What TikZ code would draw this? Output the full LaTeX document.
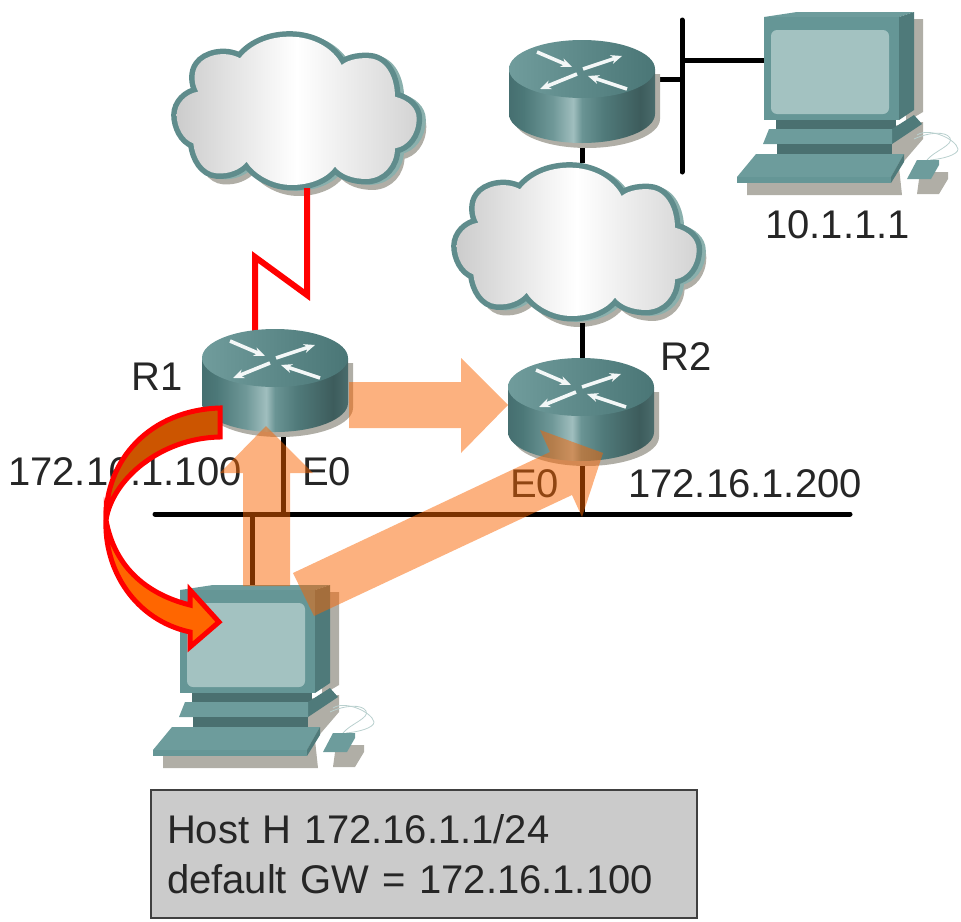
\documentclass[tikz,border=0pt]{standalone}
\usepackage{fontspec}
\setmainfont{Liberation Sans}
\usetikzlibrary{arrows.meta}
\definecolor{flowfill}{HTML}{F96400}
\definecolor{shadowc}{HTML}{B0AEA6}
\definecolor{pcfront}{HTML}{659696}
\definecolor{pcside}{HTML}{4F7A7A}
\definecolor{pcdark}{HTML}{4A7070}
\definecolor{pcscreen}{HTML}{A3C2C1}
\definecolor{pclite}{HTML}{6D9C9C}
\definecolor{cloudrim}{HTML}{5F8C8C}
\definecolor{cloudrimlite}{HTML}{8AB0AD}
\definecolor{boxgray}{HTML}{CBCBCB}
\definecolor{rtopa}{HTML}{709C9C}
\definecolor{rtopb}{HTML}{4A7676}
\definecolor{rs1}{HTML}{466F70}\definecolor{rs2}{HTML}{4C7878}\definecolor{rs3}{HTML}{6F9898}
\definecolor{rs4}{HTML}{A0BEBE}\definecolor{rs5}{HTML}{6A9494}\definecolor{rs6}{HTML}{507A7A}
\definecolor{rs7}{HTML}{3D5C5C}\definecolor{rs8}{HTML}{4A6C6C}
\pgfdeclarehorizontalshading{routerside}{100bp}{
 color(0bp)=(rs1); color(25bp)=(rs1); color(30bp)=(rs2); color(40bp)=(rs3); color(47bp)=(rs4);
 color(50bp)=(rs5); color(57.5bp)=(rs6); color(70bp)=(rs7); color(75bp)=(rs8); color(100bp)=(rs8)}
\tikzset{
 wire/.style={line width=5pt,black},
 redlink/.style={line width=6pt,red,line join=miter},
 flow/.style={fill=flowfill,fill opacity=.5,draw=none},
 bent/.style={draw=red,line width=5pt,line join=miter},
 lbl/.style={font=\fontsize{40}{46}\selectfont,inner sep=0pt,anchor=base west,text=black!85},
 rarrow/.style={white!92!pclite,line width=3.6pt,-{Stealth[length=11pt,width=9pt]}}
}
\newcommand{\cloudpath}{(240,130) .. controls (280,80) and (340,65) .. (390,65) .. controls (460,65) and (520,100) .. (545,150) .. controls (570,130) and (610,128) .. (630,130) .. controls (680,135) and (705,190) .. (705,245) .. controls (745,255) and (770,280) .. (770,310) .. controls (770,360) and (740,395) .. (705,400) .. controls (705,450) and (670,490) .. (620,492) .. controls (580,492) and (545,480) .. (525,455) .. controls (500,490) and (450,510) .. (395,510) .. controls (340,510) and (285,480) .. (260,440) .. controls (240,465) and (205,478) .. (170,475) .. controls (130,472) and (105,430) .. (100,385) .. controls (70,375) and (50,335) .. (50,300) .. controls (50,265) and (80,235) .. (115,230) .. controls (100,205) and (100,170) .. (115,150) .. controls (135,120) and (195,105) .. (240,130) -- cycle}
\newcommand{\clouddev}[2]{%
 \begin{scope}[shift={(#1,#2)},x=.3333pt,y=-.3333pt]
  \draw[shadowc,fill=shadowc,line width=6pt,shift={(20,24)}] \cloudpath;
  \draw[cloudrimlite,fill=cloudrimlite,line width=9pt,shift={(14,4)}] \cloudpath;
  \draw[cloudrim,line width=11pt] \cloudpath;
  \shade[left color=black!20,right color=black!17,middle color=white] \cloudpath;
 \end{scope}}
\newcommand{\routerdev}[2]{%
 \begin{scope}[shift={(#1,#2)}]
  \fill[shadowc] (-68,5) -- (78,5) -- (78,50) .. controls (78,66) and (45,79) .. (5,79) .. controls (-35,79) and (-68,66) .. (-68,50) -- cycle;
  \shade[shading=routerside] (-73,0) -- (-73,45) .. controls (-73,61) and (-40,74) .. (0,74) .. controls (40,74) and (73,61) .. (73,45) -- (73,0) -- cycle;
  \shade[shading angle=70,left color=rtopa,right color=rtopb] (0,0) ellipse [x radius=73,y radius=29];
  \draw[rarrow] (-45,-17) -- (-10,-2);
  \draw[rarrow] (1,0) -- (40,-13);
  \draw[rarrow] (-5,5) -- (-42,20);
  \draw[rarrow] (45,20) -- (6,7);
 \end{scope}}
\newcommand{\pcdev}[2]{%
 \begin{scope}[shift={(#1,#2)}]
  \fill[shadowc] (322,592) -- (339,592) -- (339,685) -- (322,695) -- cycle;
  \fill[shadowc] (300,700) -- (339,695) -- (339,712) -- (315,740) -- (318,768) -- (163,768) -- (163,752) -- cycle;
  \fill[shadowc] (336,745) -- (364,745) -- (364,752) -- (355,767) -- (333,767) -- cycle;
  \draw[cloudrimlite!60!white,line width=.8pt] (330,712) .. controls (345,705) and (362,704) .. (366,711) .. controls (370,718) and (350,724) .. (343,733);
  \draw[cloudrimlite!60!white,line width=.8pt] (333,708) .. controls (345,700) and (372,712) .. (374,722) .. controls (374,728) and (358,732) .. (346,733);
  \fill[pclite] (180,590) -- (213,585) -- (330,585) -- (315,590) -- cycle;
  \fill[pcfront] (180,590) rectangle (315,693);
  \fill[pcside] (315,590) -- (330,585) -- (330,683) -- (315,693) -- cycle;
  \fill[pcscreen,rounded corners=6pt] (187,603) rectangle (305,687);
  \fill[pcdark] (192,693) rectangle (312,703);
  \fill[pcside] (308,702) -- (330,688) -- (338,697) -- (308,717) -- cycle;
  \fill[pclite] (185,702) -- (308,702) -- (308,717) -- (179,717) -- cycle;
  \fill[pcdark] (193,717) rectangle (308,727);
  \fill[pclite] (172,727) -- (320,727) -- (307,750) -- (153,750) -- cycle;
  \fill[pcfront] (153,750) -- (307,750) -- (307,756) -- (153,756) -- cycle;
  \fill[pcside] (320,727) -- (320,735) -- (307,756) -- (307,750) -- cycle;
  \fill[pclite] (333,733) -- (355,733) -- (355,738) -- (347,752) -- (323,752) -- cycle;
 \end{scope}}
\begin{document}
\begin{tikzpicture}[x=1pt,y=-1pt]
\useasboundingbox (0,0) rectangle (961,921);
% named connection points
\coordinate (cloudAbot) at (307,188);
\coordinate (zigA) at (307,295);
\coordinate (zigB) at (255,257);
\coordinate (routerAtop) at (255,332);
\coordinate (busL) at (155,514);
\coordinate (busR) at (850,514);
\coordinate (routerAbot) at (283,425);
\coordinate (busAtap) at (283,514);
\coordinate (hostTap) at (252,514);
\coordinate (hostTop) at (252,588);
\coordinate (routerBbot) at (582,455);
\coordinate (busBtap) at (582,516);
\coordinate (routerCbot) at (582,135);
\coordinate (cloudBtop) at (582,163);
\coordinate (cloudBbot) at (582,323);
\coordinate (routerBtop) at (582,360);
\coordinate (routerCright) at (650,79);
\coordinate (vbusTap) at (685,79);
\coordinate (vbusT) at (682,20);
\coordinate (vbusB) at (682,172);
\coordinate (vbusTapB) at (682,60);
\coordinate (pcBleft) at (765,60);
% clouds
\clouddev{160}{15}
\clouddev{440}{146}
% links
\draw[redlink] (cloudAbot) -- (zigA) -- (zigB) -- (routerAtop);
\draw[wire,line cap=round] (busL) -- (busR);
\draw[wire] (routerAbot) -- (busAtap);
\draw[wire] (hostTap) -- (hostTop);
\draw[wire] (routerBbot) -- (busBtap);
\draw[wire] (routerCbot) -- (cloudBtop);
\draw[wire] (cloudBbot) -- (routerBtop);
\draw[wire] (routerCright) -- (vbusTap);
\draw[wire,line cap=round] (vbusT) -- (vbusB);
\draw[wire] (vbusTapB) -- (pcBleft);
% devices
\routerdev{275}{358}
\routerdev{582}{69}
\routerdev{581}{387}
\pcdev{0}{0}
\pcdev{584}{-573}
% labels
\node[lbl] (lR1) at (131,390) {R1};
\node[lbl] (lR2) at (660,370) {R2};
\node[lbl] (lGwA) at (8,485) {172.16.1.100};
\node[lbl] (lE0A) at (302,485) {E0};
\node[lbl] (lE0B) at (510,497) {E0};
\node[lbl] (lGwB) at (628,497) {172.16.1.200};
\node[lbl] (lDst) at (765,238) {10.1.1.1};
\node[draw=black!75,line width=2.5pt,fill=boxgray,minimum width=546pt,minimum height=128pt,inner sep=0pt,text width=514pt,align=left,font=\fontsize{40}{50}\selectfont,text=black!85] (hostbox) at (424,854) {Host H 172.16.1.1/24\\default GW = 172.16.1.100};
% packet flow arrows
\fill[flow] (349,382) -- (461,382) -- (461,358) -- (508,405) -- (461,453) -- (461,428) -- (349,428) -- cycle;
\fill[flow] (243,586) -- (243,473) -- (220,473) -- (266,426) -- (313,473) -- (290,473) -- (290,586) -- cycle;
\fill[flow] (293,573) -- (550,452) -- (540,430) -- (603,453) -- (582,517) -- (572,495) -- (314,616) -- cycle;
% redirect arrow
\draw[bent,fill={rgb,255:red,255;green,102;blue,0}] (106,520) .. controls (104,570) and (135,620) .. (190,632) -- (190,647) -- (219,622) -- (190,590) -- (190,605) .. controls (150,595) and (115,570) .. (106,520) -- cycle;
\draw[bent,fill={rgb,255:red,204;green,85;blue,0}] (220,408) .. controls (150,410) and (105,460) .. (106,520) .. controls (112,480) and (160,438) .. (220,437) -- cycle;
\end{tikzpicture}
\end{document}
